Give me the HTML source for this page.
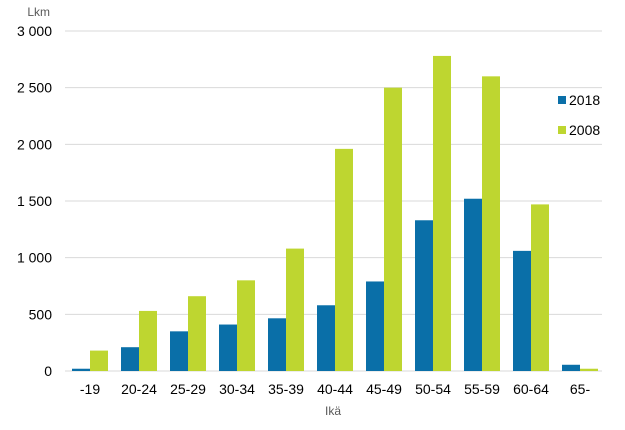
<!DOCTYPE html>
<html><head><meta charset="utf-8"><style>
body{margin:0;background:#fff;}
svg{display:block;font-family:"Liberation Sans",Arial,sans-serif;}
</style></head><body>
<svg id="chart" width="625" height="430">
<text x="50" y="16" font-size="12" fill="#595959" text-anchor="end">Lkm</text>
<text x="333" y="415" font-size="12" fill="#595959" text-anchor="middle">Ikä</text>
<g id="grid"></g><g id="bars"></g><g id="xlabels"></g>
<g>
<rect x="558" y="96" width="8" height="8" fill="#0a6fa8"/>
<text x="569" y="105" font-size="14" fill="#000">2018</text>
<rect x="558" y="126" width="8" height="8" fill="#bed630"/>
<text x="569" y="135" font-size="14" fill="#000">2008</text>
</g>
</svg>
<script>
const categories=["-19","20-24","25-29","30-34","35-39","40-44","45-49","50-54","55-59","60-64","65-"];
const series2018=[20,210,350,410,465,580,790,1330,1520,1060,55];
const series2008=[180,530,660,800,1080,1960,2500,2780,2600,1470,20];
const yTicks=[0,500,1000,1500,2000,2500,3000];
const yTickLabels=["0","500","1 000","1 500","2 000","2 500","3 000"];
const NS="http://www.w3.org/2000/svg";
const x0=65.5,band=49,y0=371,yTop=31,yMax=3000;
const y=v=>y0-(v/yMax)*(y0-yTop);
const xc=i=>x0+band*(i+0.5);
function mk(t,a,p){const e=document.createElementNS(NS,t);for(const k in a)e.setAttribute(k,a[k]);p.appendChild(e);return e;}
const grid=document.getElementById('grid');
yTicks.forEach((v,i)=>{
 const l=mk('line',{x1:65,x2:602,y1:y(v),y2:y(v),stroke:'#d9d9d9','stroke-width':1},grid);
 
 
 const t=mk('text',{x:52,y:y(v)+5,'font-size':14,'text-anchor':'end',fill:'#000'},grid);
 t.textContent=yTickLabels[i];
 
 
});
const bars=document.getElementById('bars'),xl=document.getElementById('xlabels');
categories.forEach((c,i)=>{
 const b1=mk('rect',{x:xc(i)-18,y:y(series2018[i]),width:18,height:y0-y(series2018[i]),fill:'#0a6fa8'},bars);
 
 
 const b2=mk('rect',{x:xc(i),y:y(series2008[i]),width:18,height:y0-y(series2008[i]),fill:'#bed630'},bars);
 
 
 const t=mk('text',{x:xc(i),y:394,'font-size':14,'text-anchor':'middle',fill:'#000'},xl);
 t.textContent=c;
 
 
});
</script>
</body></html>
